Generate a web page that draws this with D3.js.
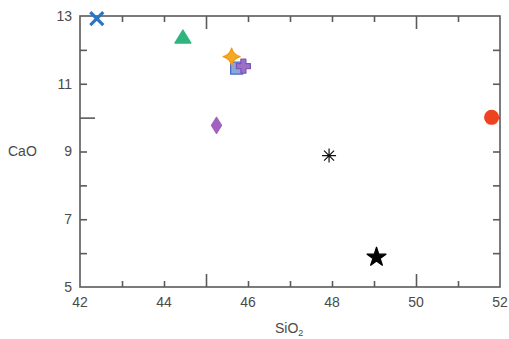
<!DOCTYPE html>
<html>
<head>
<meta charset="utf-8">
<script src="https://cdn.jsdelivr.net/npm/d3@7"></script>
<style>
  body { margin: 0; background: #fff; }
  svg text { font-family: "Liberation Sans", Arial, sans-serif; fill: #4a4a4a; }
</style>
</head>
<body>
<svg id="chart" width="509" height="339"></svg>
<script>
// Samples: SiO2 vs CaO (wt%)
const samples = ["s1", "s2", "s3", "s4", "s5", "s6", "s7", "s8", "s9"];
const sio2 = [42.4, 44.45, 45.73, 45.89, 45.61, 45.25, 47.93, 51.8, 49.06];
const cao = [12.92, 12.38, 11.46, 11.52, 11.8, 9.77, 8.88, 10.01, 5.88];
const markerShapes = ["cross", "triangle", "square", "plus", "sparkle", "diamond", "asterisk", "circle", "star"];
const markerFill = ["#2f8fe0", "#2fb47f", "#8ea5dc", "#9d70c8", "#f7a823", "#a262c0", "#111", "#ee4322", "#000"];
const markerStroke = ["#2a76c4", "#2fb47f", "#4a6cc8", "#7d57b5", "#f29a18", "#a262c0", "#111", "#ee4322", "#000"];

const xTicks = [42, 43, 44, 45, 46, 47, 48, 49, 50, 51, 52];
const xTickLabels = [42, 44, 46, 48, 50, 52];
const yTicks = [5, 6, 7, 8, 9, 10, 11, 12, 13];
const yTickLabels = [5, 7, 9, 11, 13];
const xMajor = [45, 50];
const yMajor = [10];

const svg = d3.select("#chart");
const m = { left: 80, right: 500, top: 16, bottom: 287 };

const x = d3.scaleLinear().domain([42, 52]).range([m.left, m.right]);
const y = d3.scaleLinear().domain([5, 13]).range([m.bottom, m.top]);

const axisColor = "#5a5a5a";

function styleAxis(g, majors, shortLen, longLen) {
  g.select(".domain").remove();
  g.selectAll(".tick text").remove();
  g.selectAll(".tick line")
    .attr("stroke", axisColor)
    .attr("stroke-width", 1.6)
    .each(function (d) {
      const sel = d3.select(this);
      const len = majors.includes(d) ? longLen : shortLen;
      const attr = sel.attr("x2") !== null && +sel.attr("x2") !== 0 ? "x2" : "y2";
      const sign = Math.sign(+sel.attr(attr)) || 1;
      sel.attr(attr, sign * len);
    });
}

// Inward ticks on all four sides
svg.append("g").attr("transform", `translate(0,${m.bottom})`)
  .call(d3.axisBottom(x).tickValues(xTicks.slice(1, -1)).tickSize(-6))
  .call(g => styleAxis(g, xMajor, 6, 13));
svg.append("g").attr("transform", `translate(0,${m.top})`)
  .call(d3.axisTop(x).tickValues(xTicks.slice(1, -1)).tickSize(-6))
  .call(g => styleAxis(g, xMajor, 6, 13));
svg.append("g").attr("transform", `translate(${m.left},0)`)
  .call(d3.axisLeft(y).tickValues(yTicks.slice(1, -1)).tickSize(-7))
  .call(g => styleAxis(g, yMajor, 7, 15));
svg.append("g").attr("transform", `translate(${m.right},0)`)
  .call(d3.axisRight(y).tickValues(yTicks.slice(1, -1)).tickSize(-7))
  .call(g => styleAxis(g, yMajor, 7, 14));

// Frame
svg.append("rect")
  .attr("x", m.left).attr("y", m.top)
  .attr("width", m.right - m.left).attr("height", m.bottom - m.top)
  .attr("fill", "none").attr("stroke", axisColor).attr("stroke-width", 1.6);

// Tick labels
svg.append("g").selectAll("text").data(xTickLabels).join("text")
  .attr("x", d => x(d)).attr("y", m.bottom + 20)
  .attr("text-anchor", "middle").attr("font-size", 14).text(d => d);
svg.append("g").selectAll("text").data(yTickLabels).join("text")
  .attr("x", m.left - 8).attr("y", d => y(d)).attr("dy", "0.35em")
  .attr("text-anchor", "end").attr("font-size", 14).text(d => d);

// Axis titles
svg.append("text").attr("x", 8).attr("y", y(9)).attr("dy", "0.35em")
  .attr("font-size", 14).text("CaO");
const xt = svg.append("text").attr("x", 275).attr("y", 333).attr("font-size", 14);
xt.append("tspan").text("SiO");
xt.append("tspan").attr("font-size", 9).attr("dy", 3).text("2");

// Marker path generators (centred at 0,0)
const shapes = {
  cross: () => "M-6.5,-6.5L6.5,6.5M6.5,-6.5L-6.5,6.5",
  triangle: () => "M0,-7L8,6L-8,6Z",
  square: () => "M-6,-6H6V6H-6Z",
  plus: () => "M-2.5,-7H2.5V-2.5H7V2.5H2.5V7H-2.5V2.5H-7V-2.5H-2.5Z",
  sparkle: () => "M0,-8.5Q1.8,-1.8 8.5,0Q1.8,1.8 0,8.5Q-1.8,1.8 -8.5,0Q-1.8,-1.8 0,-8.5Z",
  diamond: () => "M0,-8L5,0L0,8L-5,0Z",
  asterisk: () => "M0,-7V7M-7,0H7M-5,-5L5,5M5,-5L-5,5",
  circle: () => d3.symbol(d3.symbolCircle, 150)(),
  star: () => d3.symbol(d3.symbolStar, 110)()
};

const pts = samples.map((s, i) => ({
  id: s, x: sio2[i], y: cao[i], shape: markerShapes[i], fill: markerFill[i], stroke: markerStroke[i]
}));

svg.append("g").selectAll("path").data(pts).join("path")
  .attr("transform", d => `translate(${x(d.x)},${y(d.y)})`)
  .attr("d", d => shapes[d.shape]())
  .attr("fill", d => (d.shape === "cross" || d.shape === "asterisk") ? "none" : d.fill)
  .attr("stroke", d => d.stroke)
  .attr("stroke-width", d => d.shape === "cross" ? 3.2 : d.shape === "asterisk" ? 1.2 : 1.3)
  .attr("stroke-linejoin", "round");
</script>
</body>
</html>
